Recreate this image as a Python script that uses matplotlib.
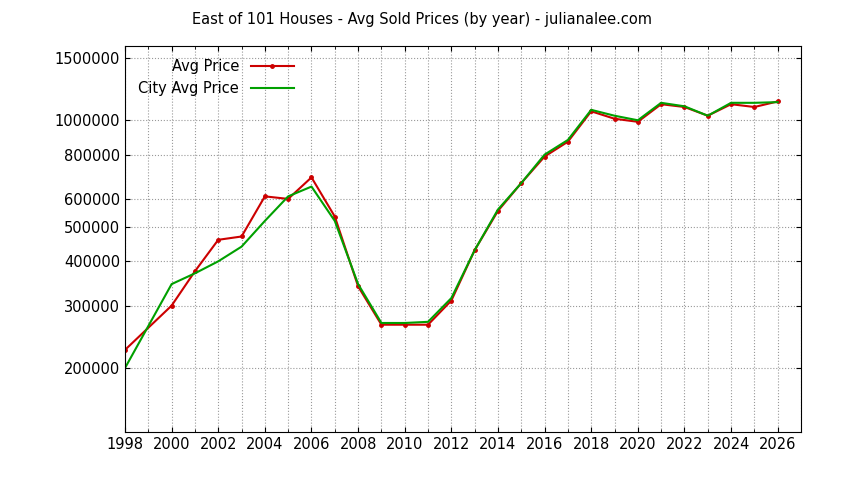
import matplotlib
matplotlib.use("Agg")
import matplotlib.pyplot as plt
from matplotlib.ticker import FixedLocator, NullLocator, NullFormatter

years_avg = [1998,2000,2001,2002,2003,2004,2005,2006,2007,2008,2009,2010,2011,2012,2013,2014,2015,2016,2017,2018,2019,2020,2021,2022,2023,2024,2025,2026]
avg_price = [225000,300000,375000,460000,470000,610000,600000,690000,535000,340000,265000,265000,265000,310000,430000,555000,665000,790000,870000,1060000,1010000,990000,1110000,1090000,1030000,1110000,1090000,1130000]
years_city = [1998,2000,2001,2002,2003,2004,2005,2006,2007,2008,2009,2010,2011,2012,2013,2014,2015,2016,2017,2018,2019,2020,2021,2022,2023,2024,2025,2026]
city_price = [200000,345000,370000,400000,440000,520000,610000,650000,520000,345000,268000,268000,270000,315000,430000,560000,665000,800000,880000,1070000,1030000,1000000,1120000,1095000,1030000,1120000,1120000,1125000]
yticks = [200000,300000,400000,500000,600000,800000,1000000,1500000]
xticks = list(range(1998,2027,2))

fig = plt.figure(figsize=(8.44,4.80), dpi=100)
ax = fig.add_axes([125/844, 1-432/480, (801-125)/844, (432-46)/480])
ax.set_yscale('log')
ax.plot(years_avg, avg_price, color='#cc0000', lw=1.5, marker='o', ms=2.5, label='Avg Price')
ax.plot(years_city, city_price, color='#00a000', lw=1.5, label='City Avg Price')
ax.set_xlim(1998, 2027)
ax.set_ylim(132000, 1620000)
ax.yaxis.set_major_locator(FixedLocator(yticks))
ax.yaxis.set_minor_locator(NullLocator())
ax.yaxis.set_minor_formatter(NullFormatter())
ax.set_yticklabels([str(v) for v in yticks])
ax.xaxis.set_major_locator(FixedLocator(xticks))
ax.xaxis.set_minor_locator(FixedLocator(list(range(1998,2028))))
ax.tick_params(which='both', direction='in', top=True, right=True, labelsize=10.5)
ax.grid(True, which='both', axis='x', ls=':', color='#999999', lw=0.8)
ax.grid(True, which='major', axis='y', ls=':', color='#999999', lw=0.8)
for s in ax.spines.values():
    s.set_linewidth(0.8)
leg = ax.legend(loc='upper left', bbox_to_anchor=(0.0, 1.0), frameon=False, markerfirst=False, fontsize=10.5, handlelength=3)
for t in leg.get_texts():
    t.set_ha('right')
leg._legend_box.align = 'right'
fig.suptitle('East of 101 Houses - Avg Sold Prices (by year) - julianalee.com', y=0.975, fontsize=10.5)
fig.savefig('out.png', dpi=100)
